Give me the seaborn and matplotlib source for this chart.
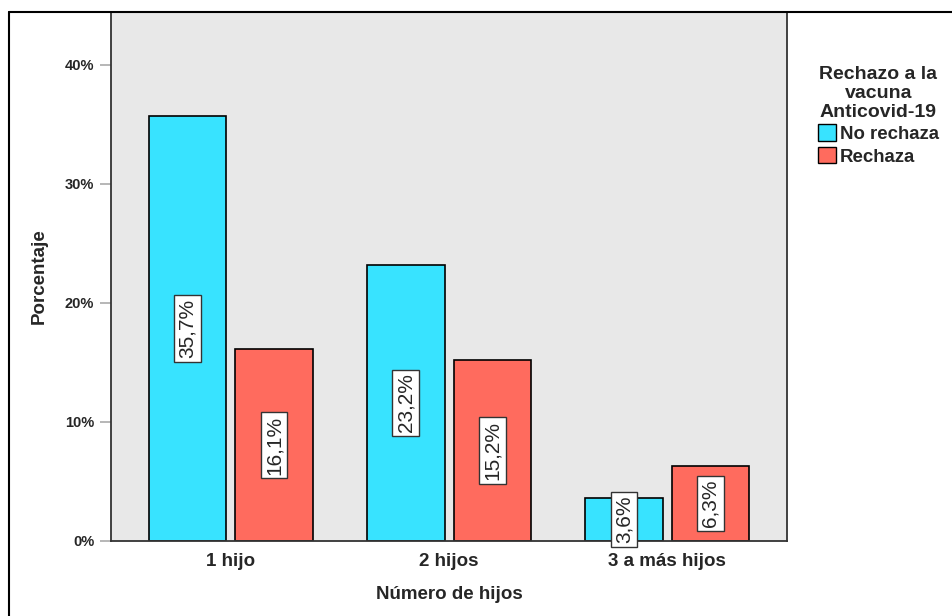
import pandas as pd
import seaborn as sns
from matplotlib import pyplot as plt
from matplotlib.lines import Line2D
from matplotlib.patches import Patch

# data
categorias = ['1 hijo', '2 hijos', '3 a más hijos']
grupos = ['No rechaza', 'Rechaza']
no_rechaza = [35.7, 23.2, 3.6]
rechaza = [16.1, 15.2, 6.3]
colores = ['#38E3FF', '#FF6B5E']

df = pd.DataFrame({
    'hijos': categorias * 2,
    'grupo': [grupos[0]] * 3 + [grupos[1]] * 3,
    'pct': no_rechaza + rechaza,
})

sns.set_style('white')
plt.rcParams['font.family'] = ['Liberation Sans', 'DejaVu Sans']

fig = plt.figure(figsize=(9.53, 6.16), dpi=100)
ax = fig.add_axes([0.1165, 0.1218, 0.7093, 0.8587])
ax.set_facecolor('#E8E8E8')

sns.barplot(data=df, x='hijos', y='pct', hue='grupo', order=categorias,
            hue_order=grupos, palette=colores, saturation=1, width=0.794, gap=0.104,
            edgecolor='black', linewidth=1.2, ax=ax, legend=False)

ax.set_ylim(0, 44.45)
ax.set_xlim(-0.55, 2.55)
ax.set_yticks([0, 10, 20, 30, 40])
ax.set_yticklabels(['0%', '10%', '20%', '30%', '40%'],
                   family=['Liberation Sans Narrow', 'Liberation Sans'],
                   fontweight='bold', fontsize=10.5)
ax.set_xticks(range(3))
ax.set_xticklabels(categorias, fontweight='bold', fontsize=13.5)
ax.tick_params(axis='y', left=True, length=8, color='#AAAAAA', width=1.2, pad=4)
ax.tick_params(axis='x', bottom=False, pad=5)
ax.set_ylabel('Porcentaje', fontweight='bold', fontsize=13.5, labelpad=12)
ax.set_xlabel('Número de hijos', fontweight='bold', fontsize=13.5, labelpad=12)
for s in ax.spines.values():
    s.set_color('#333333')
    s.set_linewidth(1.3)

# value labels, rotated in white boxes
for bars in ax.containers:
    for b in bars:
        h = b.get_height()
        txt = f'{h:.1f}%'.replace('.', ',')
        ax.text(b.get_x() + b.get_width() / 2, h / 2, txt, rotation=90,
                ha='center', va='center', fontsize=15,
                bbox=dict(boxstyle='square,pad=0.18', fc='white', ec='#333333', lw=1))

handles = [Patch(facecolor=c, edgecolor='black', linewidth=1) for c in colores]
leg = ax.legend(handles, grupos, title='Rechazo a la\nvacuna\nAnticovid-19',
                loc='upper center', bbox_to_anchor=(1.135, 0.93), frameon=False,
                prop={'weight': 'bold', 'size': 13.4}, handlelength=1.0,
                handleheight=1.0, handletextpad=0.2, labelspacing=0.2)
leg.get_title().set_fontweight('bold')
leg.get_title().set_fontsize(14)
leg.get_title().set_multialignment('center')
leg.get_title().set_linespacing(1.15)

# outer frame (left and top)
fig.add_artist(Line2D([0.0094, 0.0094], [0, 0.9805], color='black', lw=1.5))
fig.add_artist(Line2D([0.0094, 1], [0.9805, 0.9805], color='black', lw=1.5))

plt.savefig('out.png', dpi=100)
